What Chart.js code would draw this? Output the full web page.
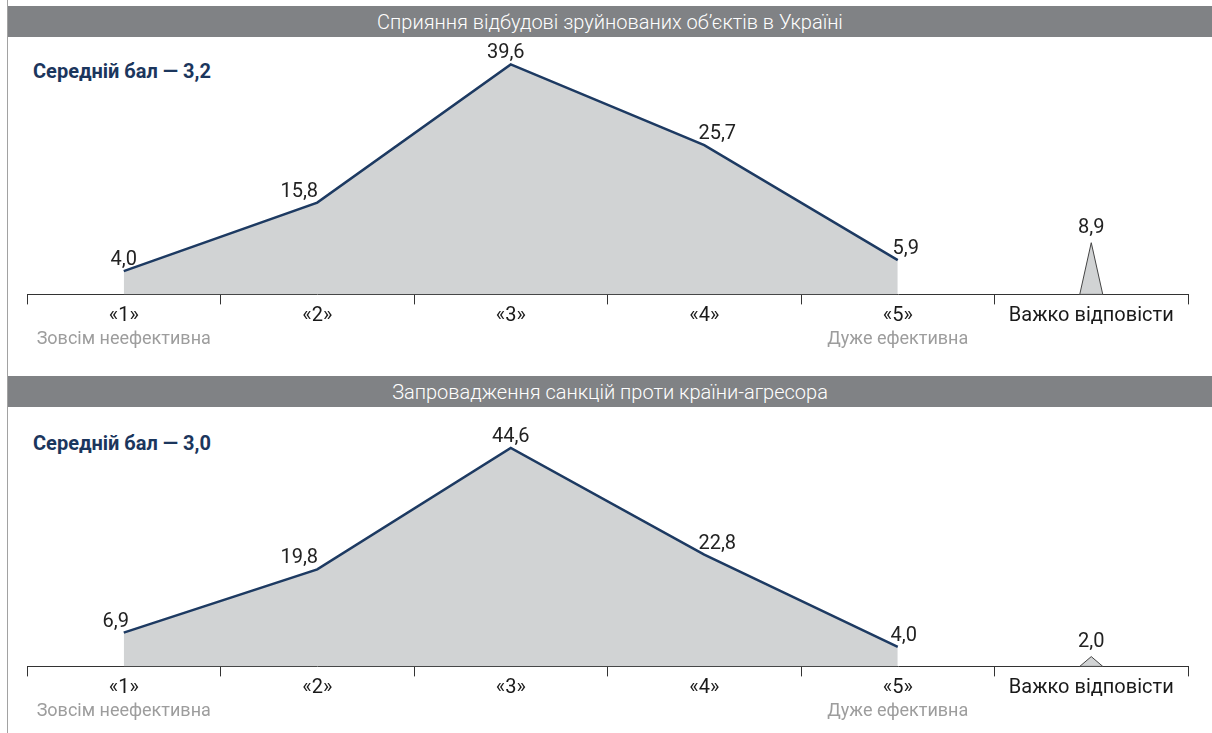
<!DOCTYPE html>
<html lang="uk">
<head>
<meta charset="utf-8">
<title>Ефективність заходів</title>
<script src="https://cdn.jsdelivr.net/npm/chart.js@4.4.1/dist/chart.umd.min.js"></script>
<style>
    html, body {
        margin: 0;
        padding: 0;
        background: #fff;
        width: 1212px;
        height: 733px;
        overflow: hidden;
        position: relative;
        font-family: Roboto, "Noto Sans", sans-serif;
    }
    .frame {
        position: absolute;
        left: 7px;
        top: 0;
        width: 1px;
        height: 733px;
        background: #a2a2a2;
    }
    .head {
        position: absolute;
        left: 8px;
        right: 0;
        height: 31px;
        line-height: 32px;
        background: #808285;
        color: #fff;
        text-align: center;
        font-size: 20px;
        font-weight: 300;
    }
    .mean {
        position: absolute;
        left: 33px;
        height: 24px;
        line-height: 24px;
        font-family: Roboto, sans-serif;
        font-weight: 700;
        font-size: 20px;
        color: #1b365d;
    }
    .box {
        position: absolute;
        left: 8px;
        width: 1204px;
    }
</style>
</head>
<body>
<div class="frame"></div>

<div class="head" id="head1" style="top:6px"></div>
<div class="mean" id="mean1" style="top:59px"></div>
<div class="box" style="top:37px; height:339px"><canvas id="chart1"></canvas></div>

<div class="head" id="head2" style="top:376px"></div>
<div class="mean" id="mean2" style="top:431px"></div>
<div class="box" style="top:409px; height:324px"><canvas id="chart2"></canvas></div>

<script>
// дані
const categories = ['«1»', '«2»', '«3»', '«4»', '«5»', 'Важко відповісти'];
const subLabels = ['Зовсім неефективна', '', '', '', 'Дуже ефективна', ''];

const panelTitles = [
    'Сприяння відбудові зруйнованих об’єктів в Україні',
    'Запровадження санкцій проти країни-агресора'
];
const meanLabels = ['Середній бал — 3,2', 'Середній бал — 3,0'];

const rebuildValues = [4.0, 15.8, 39.6, 25.7, 5.9];
const rebuildDontKnow = 8.9;

const sanctionsValues = [6.9, 19.8, 44.6, 22.8, 4.0];
const sanctionsDontKnow = 2.0;

// кольори
const navy = '#1d3a62';
const areaGrey = '#d1d3d4';
const axisColor = '#333333';

function fmt(v) {
    return v.toFixed(1).replace('.', ',');
}

// підписи значень + трикутник "важко відповісти"
const markPlugin = {
    id: 'markPlugin',
    afterDatasetsDraw(chart, args, opts) {
        const ctx = chart.ctx;
        const xs = chart.scales.x;
        const ys = chart.scales.y;
        const meta = chart.getDatasetMeta(0);
        const values = chart.data.datasets[0].data;

        // трикутник на останній категорії
        const tx = xs.getPixelForValue(values.length - 1);
        const top = ys.getPixelForValue(opts.dontKnow);
        const base = ys.getPixelForValue(0);
        ctx.save();
        ctx.beginPath();
        ctx.moveTo(tx - 11.5, base);
        ctx.lineTo(tx, top);
        ctx.lineTo(tx + 11.5, base);
        ctx.closePath();
        ctx.fillStyle = areaGrey;
        ctx.fill();
        ctx.strokeStyle = '#444';
        ctx.lineWidth = 1;
        ctx.stroke();

        ctx.font = '20px Roboto';
        ctx.fillStyle = '#222';
        ctx.textAlign = 'center';
        ctx.textBaseline = 'alphabetic';
        values.forEach((v, i) => {
            if (v === null) return;
            const p = meta.data[i];
            ctx.fillText(fmt(v), p.x + opts.dx[i], p.y - 6);
        });
        ctx.fillText(fmt(opts.dontKnow), tx, top - 10);
        ctx.restore();
    }
};

function makeChart(id, values, dontKnow, yMax, bottomPad, dx) {
    const ctx = document.getElementById(id).getContext('2d');
    return new Chart(ctx, {
        type: 'line',
        data: {
            labels: categories,
            datasets: [{
                data: values.concat([null]),
                borderColor: navy,
                borderWidth: 2.5,
                backgroundColor: areaGrey,
                fill: 'origin',
                pointRadius: 0,
                tension: 0
            }]
        },
        options: {
            responsive: true,
            maintainAspectRatio: false,
            animation: false,
            devicePixelRatio: 1,
            layout: {
                padding: { left: 19, right: 24, top: 10, bottom: bottomPad }
            },
            plugins: {
                legend: { display: false },
                tooltip: { enabled: false },
                markPlugin: { dontKnow: dontKnow, dx: dx }
            },
            scales: {
                x: {
                    type: 'category',
                    offset: true,
                    grid: {
                        offset: true,
                        drawOnChartArea: false,
                        drawTicks: true,
                        tickLength: 10,
                        color: axisColor,
                        lineWidth: 1
                    },
                    border: { display: true, color: axisColor, width: 1 },
                    ticks: {
                        color: '#1a1a1a',
                        padding: 0,
                        maxRotation: 0,
                        autoSkip: false,
                        font: { family: 'Roboto', size: 20 }
                    }
                },
                x2: {
                    type: 'category',
                    position: 'bottom',
                    weight: 1,
                    labels: subLabels,
                    offset: true,
                    grid: { display: false, drawTicks: false },
                    border: { display: false },
                    ticks: {
                        color: '#9d9d9d',
                        padding: 0,
                        maxRotation: 0,
                        autoSkip: false,
                        font: { family: 'Roboto', size: 18 }
                    }
                },
                y: {
                    display: false,
                    min: 0,
                    max: yMax
                }
            }
        },
        plugins: [markPlugin]
    });
}

document.getElementById('head1').textContent = panelTitles[0];
document.getElementById('head2').textContent = panelTitles[1];
document.getElementById('mean1').textContent = meanLabels[0];
document.getElementById('mean2').textContent = meanLabels[1];

makeChart('chart1', rebuildValues, rebuildDontKnow, 42.6, 26, [0, -18, -5, 13, 8]);
makeChart('chart2', sanctionsValues, sanctionsDontKnow, 50.5, 11, [-8, -18, 0, 13, 6]);
</script>
</body>
</html>
